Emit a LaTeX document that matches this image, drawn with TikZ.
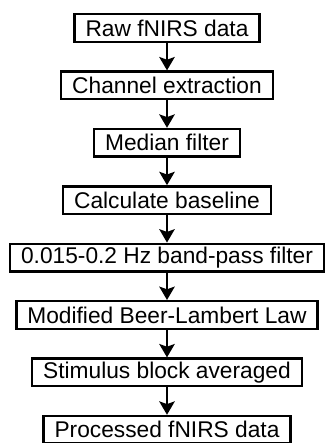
\documentclass[tikz,border=0pt]{standalone}
\usepackage{fontspec}
\setmainfont{Liberation Sans}
\usetikzlibrary{arrows.meta}
\begin{document}
\begin{tikzpicture}[x=0.03cm,y=0.03cm,
  box/.style={draw,line width=2pt,inner xsep=9.4pt,inner ysep=0pt,minimum height=0.83cm,
    font=\fontsize{19.4pt}{23pt}\selectfont},
  flow/.style={line width=2.2pt,-{Stealth[length=0.4cm,width=0.46cm,inset=0.08cm]}}]
\useasboundingbox (0,0) rectangle (327,443);
\node[box] (raw) at (167,415) {Raw fNIRS data};
\node[box] (chan) at (167,357.6) {Channel extraction};
\node[box] (med) at (167,300.2) {Median filter};
\node[box] (base) at (167,242.8) {Calculate baseline};
\node[box] (band) at (167,185.4) {0.015-0.2 Hz band-pass filter};
\node[box] (mbll) at (167,128) {Modified Beer-Lambert Law};
\node[box] (avg) at (167,70.6) {Stimulus block averaged};
\node[box] (proc) at (167,13.2) {Processed fNIRS data};
\draw[flow] (raw) -- (chan);
\draw[flow] (chan) -- (med);
\draw[flow] (med) -- (base);
\draw[flow] (base) -- (band);
\draw[flow] (band) -- (mbll);
\draw[flow] (mbll) -- (avg);
\draw[flow] (avg) -- (proc);
\end{tikzpicture}
\end{document}
